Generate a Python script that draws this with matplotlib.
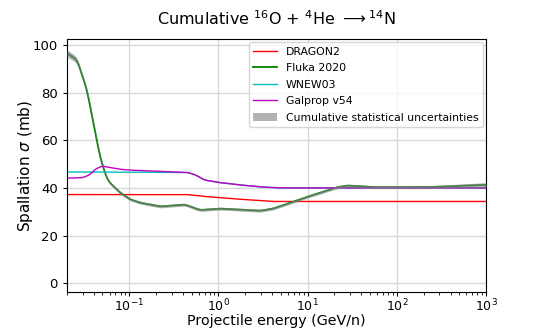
import numpy as np
import matplotlib
matplotlib.use('Agg')
import matplotlib.pyplot as plt

# ── Data ──────────────────────────────────────────────────────────────────────

fluka_E   = [0.02, 0.026, 0.0336, 0.039, 0.047, 0.056, 0.061, 0.079, 0.102,
             0.132, 0.222, 0.42, 0.62, 1.05, 2.95, 4.1, 10.0, 21.6, 28.0,
             55.0, 222.0, 1000.0]
fluka_xs  = [96.6, 93.7, 81.0, 68.5, 53.0, 44.0, 42.0, 38.0, 35.2,
             33.8, 32.2, 33.0, 30.7, 31.3, 30.4, 31.3, 36.3, 40.3, 41.0,
             40.3, 40.3, 41.3]
fluka_err = [1.5, 1.3, 1.0, 0.8, 0.7, 0.6, 0.6, 0.6, 0.6,
             0.6, 0.6, 0.6, 0.6, 0.6, 0.6, 0.6, 0.6, 0.6, 0.6,
             0.6, 0.6, 0.9]

dragon_E  = [0.02, 0.45, 0.7, 1.5, 4.1, 1000.0]
dragon_xs = [37.2, 37.2, 36.4, 35.4, 34.3, 34.3]

wnew_E    = [0.02, 0.45, 0.55, 0.7, 1.0, 1.8, 3.0, 5.0, 1000.0]
wnew_xs   = [46.7, 46.5, 45.5, 43.3, 42.3, 41.2, 40.4, 40.0, 40.0]

galprop_E  = [0.02, 0.03, 0.036, 0.042, 0.05, 0.06, 0.08, 0.1, 0.2, 0.45,
              0.55, 0.7, 1.0, 1.8, 3.0, 5.0, 1000.0]
galprop_xs = [44.1, 44.3, 45.5, 48.0, 49.2, 48.6, 47.8, 47.5, 47.0, 46.5,
              45.5, 43.3, 42.3, 41.2, 40.4, 40.0, 40.0]


def smooth(E, xs, n=400):
    # log-spaced resampling so the curves look as smooth as the original
    e = np.logspace(np.log10(E[0]), np.log10(E[-1]), n)
    y = np.interp(np.log10(e), np.log10(E), xs)
    k = 5
    pad = np.pad(y, k // 2, mode='edge')
    y = np.convolve(pad, np.ones(k) / k, mode='valid')
    return e, y


fig = plt.figure(figsize=(5.4, 3.29), dpi=100)
ax = fig.add_axes([0.124, 0.112, 0.776, 0.769])

e, y = smooth(dragon_E, dragon_xs)
ax.plot(e, y, color='r', lw=1.0, label='DRAGON2')

e, y = smooth(fluka_E, fluka_xs)
_, err = smooth(fluka_E, fluka_err)
ax.plot(e, y, color='g', lw=1.3, label='Fluka 2020')

e, y = smooth(wnew_E, wnew_xs)
ax.plot(e, y, color='c', lw=1.0, label='WNEW03')

e, y = smooth(galprop_E, galprop_xs)
ax.plot(e, y, color='m', lw=1.0, label='Galprop v54')

e, y = smooth(fluka_E, fluka_xs)
ax.fill_between(e, y - err, y + err, color='grey', alpha=0.6, lw=0,
                zorder=3, label='Cumulative statistical uncertainties')

ax.set_xscale('log')
ax.set_xlim(0.02, 1000)
ax.set_ylim(-3.8, 102.5)
ax.grid(True, color='#d8d8d8', lw=1.0)
ax.set_axisbelow(True)
ax.tick_params(labelsize=9.5, length=3)
ax.tick_params(axis='x', labelsize=9, pad=1)
ax.tick_params(which='minor', length=1.8)

ax.set_xlabel('Projectile energy (GeV/n)', fontsize=10.3)
ax.xaxis.set_label_coords(0.5, -0.085)
ax.set_ylabel(r'Spallation $\sigma$ (mb)', fontsize=11)
ax.yaxis.set_label_coords(-0.076, 0.5)
ax.set_title(r'Cumulative $^{16}$O + $^{4}$He $\longrightarrow ^{14}$N',
             fontsize=11.5, pad=10)

ax.legend(loc='upper right', fontsize=7.8, handlelength=2.2,
          labelspacing=0.6, borderaxespad=0.3)

fig.savefig('out.png', dpi=100)
